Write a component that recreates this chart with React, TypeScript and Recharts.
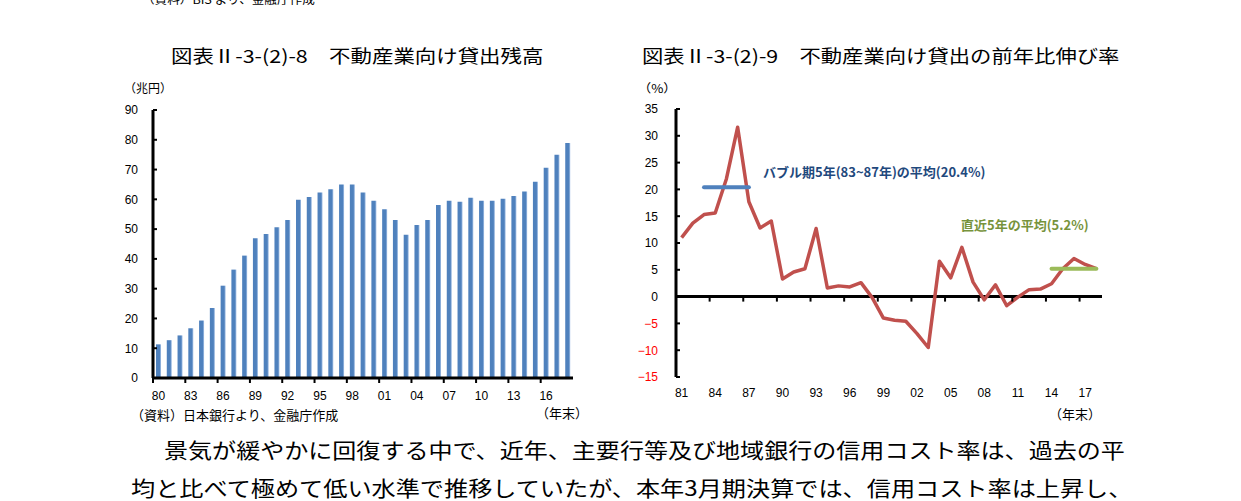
import React from "react";
import { BarChart, Bar, XAxis, YAxis, ComposedChart, Line, ReferenceLine } from "recharts";

// 図表Ⅱ-3-(2)-8 不動産業向け貸出残高（兆円）
const balanceYears = [
  "80", "81", "82", "83", "84", "85", "86", "87", "88", "89",
  "90", "91", "92", "93", "94", "95", "96", "97", "98", "99",
  "00", "01", "02", "03", "04", "05", "06", "07", "08", "09",
  "10", "11", "12", "13", "14", "15", "16", "17", "18",
];
const loanBalance = [
  11.3, 12.7, 14.3, 16.7, 19.3, 23.5, 31.0, 36.4, 41.1, 46.9,
  48.4, 50.6, 53.1, 59.9, 60.8, 62.3, 63.4, 65.0, 65.0, 62.3,
  59.5, 56.7, 53.1, 48.1, 51.4, 53.1, 58.1, 59.5, 59.2, 60.5,
  59.5, 59.5, 60.2, 61.1, 62.6, 65.9, 70.6, 75.0, 78.9,
];
const balanceTicks = [0, 10, 20, 30, 40, 50, 60, 70, 80, 90];

// 図表Ⅱ-3-(2)-9 前年比伸び率（%）
const growthYears = [
  "81", "82", "83", "84", "85", "86", "87", "88", "89",
  "90", "91", "92", "93", "94", "95", "96", "97", "98", "99",
  "00", "01", "02", "03", "04", "05", "06", "07", "08", "09",
  "10", "11", "12", "13", "14", "15", "16", "17", "18",
];
const growthRate = [
  11.0, 13.7, 15.3, 15.6, 22.0, 31.6, 17.7, 12.8, 14.1,
  3.3, 4.6, 5.2, 12.7, 1.6, 2.0, 1.8, 2.6, -0.2, -4.0,
  -4.4, -4.6, -6.9, -9.5, 6.6, 3.5, 9.2, 2.7, -0.6, 2.2,
  -1.7, -0.1, 1.3, 1.4, 2.4, 5.2, 7.1, 6.0, 5.2,
];
const bubbleAvg = [
  null, null, 20.4, 20.4, 20.4, 20.4, 20.4, null, null,
  null, null, null, null, null, null, null, null, null, null,
  null, null, null, null, null, null, null, null, null, null,
  null, null, null, null, null, null, null, null, null,
];
const recentAvg = [
  null, null, null, null, null, null, null, null, null,
  null, null, null, null, null, null, null, null, null, null,
  null, null, null, null, null, null, null, null, null, null,
  null, null, null, null, 5.2, 5.2, 5.2, 5.2, 5.2,
];
const growthTicks = [-15, -10, -5, 0, 5, 10, 15, 20, 25, 30, 35];

const FONT = '"Liberation Sans", Arial, "Noto Sans CJK JP", sans-serif';
const JP = '"Noto Sans CJK JP", "Noto Sans CJK SC", sans-serif';
const BAR = "#4F81BD";
const RED = "#C0504D";

const balanceData = balanceYears.map((year, i) => ({ year, value: loanBalance[i] }));
const growthData = growthYears.map((year, i) => ({
  year,
  rate: growthRate[i],
  bubble: bubbleAvg[i],
  recent: recentAvg[i],
}));

// right chart plot height, used to put x tick marks on the zero line
const G_PLOT_H = 268;

function YTick(props: any) {
  const { x, y, payload, gap } = props;
  const v = payload.value;
  return (
    <g>
      <line x1={x} x2={x + 4} y1={y} y2={y} stroke="#000" strokeWidth={2} />
      <text
        x={x - gap}
        y={y}
        dy={4.3}
        textAnchor="end"
        fontSize={12}
        fontFamily={FONT}
        fill={v < 0 ? "#FF0000" : "#000"}
      >
        {v < 0 ? `−${-v}` : v}
      </text>
    </g>
  );
}

function XTick(props: any) {
  const { x, y, payload, markY, labelDy } = props;
  const half = payload.offset ?? 5.4;
  const my = markY ?? y;
  return (
    <g>
      <line x1={x - half} x2={x - half} y1={my} y2={my + 5} stroke="#000" strokeWidth={2} />
      <text x={x} y={y + labelDy} textAnchor="middle" fontSize={12} fontFamily={FONT} fill="#000">
        {payload.value}
      </text>
    </g>
  );
}

function Txt({ left, top, size, children, color = "#000", bold = false, sx = 1, font = JP }: any) {
  return (
    <div
      style={{
        position: "absolute",
        left,
        top,
        fontSize: size,
        lineHeight: 1,
        color,
        fontWeight: bold ? 700 : 400,
        fontFamily: font,
        whiteSpace: "nowrap",
        transform: `scaleX(${sx})`,
        transformOrigin: "left center",
      }}
    >
      {children}
    </div>
  );
}

function BalanceChart() {
  return (
    <div style={{ position: "absolute", left: 100, top: 100 }}>
      <BarChart width={500} height={330} data={balanceData} margin={{ top: 10, right: 27, bottom: 30, left: 0 }}>
        <defs>
          <linearGradient id="barFill" x1="0" y1="0" x2="1" y2="0">
            <stop offset="0%" stopColor={BAR} />
            <stop offset="70%" stopColor={BAR} />
            <stop offset="100%" stopColor="#A9C4E8" />
          </linearGradient>
        </defs>
        <XAxis
          dataKey="year"
          height={22}
          interval={2}
          tickSize={0}
          tickMargin={0}
          tickLine={false}
          axisLine={{ stroke: "#000", strokeWidth: 3 }}
          tick={(p: any) => <XTick {...p} labelDy={21.5} />}
        />
        <YAxis
          width={53}
          domain={[0, 90]}
          ticks={balanceTicks}
          interval={0}
          tickSize={0}
          tickMargin={0}
          tickLine={false}
          axisLine={{ stroke: "#000", strokeWidth: 3 }}
          tick={(p: any) => <YTick {...p} gap={15} />}
        />
        <Bar dataKey="value" fill="url(#barFill)" barSize={5} isAnimationActive={false} />
      </BarChart>
    </div>
  );
}

function GrowthChart() {
  const zeroShift = (15 / 50) * G_PLOT_H;
  return (
    <div style={{ position: "absolute", left: 600, top: 100 }}>
      <ComposedChart width={520} height={330} data={growthData} margin={{ top: 9, right: 18, bottom: 30, left: 0 }}>
        <XAxis
          dataKey="year"
          scale="band"
          height={23}
          interval={2}
          tickSize={0}
          tickMargin={0}
          tickLine={false}
          axisLine={false}
          tick={(p: any) => <XTick {...p} labelDy={20} markY={p.y - zeroShift} />}
        />
        <YAxis
          width={76}
          domain={[-15, 35]}
          ticks={growthTicks}
          interval={0}
          tickSize={0}
          tickMargin={0}
          tickLine={false}
          axisLine={{ stroke: "#000", strokeWidth: 3 }}
          tick={(p: any) => <YTick {...p} gap={18} />}
        />
        <ReferenceLine y={0} stroke="#000" strokeWidth={3} />
        <Line
          dataKey="rate"
          type="linear"
          stroke={RED}
          strokeWidth={3.5}
          strokeLinejoin="round"
          dot={false}
          activeDot={false}
          isAnimationActive={false}
        />
        <Line
          dataKey="bubble"
          type="linear"
          stroke={BAR}
          strokeWidth={4}
          strokeLinecap="round"
          dot={false}
          activeDot={false}
          isAnimationActive={false}
        />
        <Line
          dataKey="recent"
          type="linear"
          stroke="#9BBB59"
          strokeWidth={4}
          strokeLinecap="round"
          dot={false}
          activeDot={false}
          isAnimationActive={false}
        />
      </ComposedChart>
    </div>
  );
}

export default function App() {
  return (
    <div
      style={{
        position: "absolute",
        left: 0,
        top: 0,
        width: 1241,
        height: 501,
        overflow: "hidden",
        background: "#fff",
      }}
    >
      <Txt left={142} top={-7} size={12} sx={1.05}>（資料）BIS より、金融庁作成</Txt>

      <Txt left={171} top={46} size={18} sx={1.19}>図表Ⅱ-3-(2)-8　不動産業向け貸出残高</Txt>
      <Txt left={642} top={46} size={18} sx={1.185}>図表Ⅱ-3-(2)-9　不動産業向け貸出の前年比伸び率</Txt>

      <Txt left={124} top={82} size={12}>（兆円）</Txt>
      <Txt left={638} top={82} size={12} sx={1.1}>（%）</Txt>

      <BalanceChart />
      <GrowthChart />

      <Txt left={763} top={165} size={13} bold color="#1F497D">バブル期5年(83~87年)の平均(20.4%)</Txt>
      <Txt left={961} top={218} size={13} bold color="#77933C">直近5年の平均(5.2%)</Txt>

      <Txt left={131} top={408} size={13}>（資料）日本銀行より、金融庁作成</Txt>
      <Txt left={536} top={406} size={13}>（年末）</Txt>
      <Txt left={1049} top={407} size={13}>（年末）</Txt>

      <Txt left={164} top={439} size={21} sx={1.145}>
        景気が緩やかに回復する中で、近年、主要行等及び地域銀行の信用コスト率は、過去の平
      </Txt>
      <Txt left={131} top={477} size={21} sx={1.15}>
        均と比べて極めて低い水準で推移していたが、本年3月期決算では、信用コスト率は上昇し、
      </Txt>
    </div>
  );
}
